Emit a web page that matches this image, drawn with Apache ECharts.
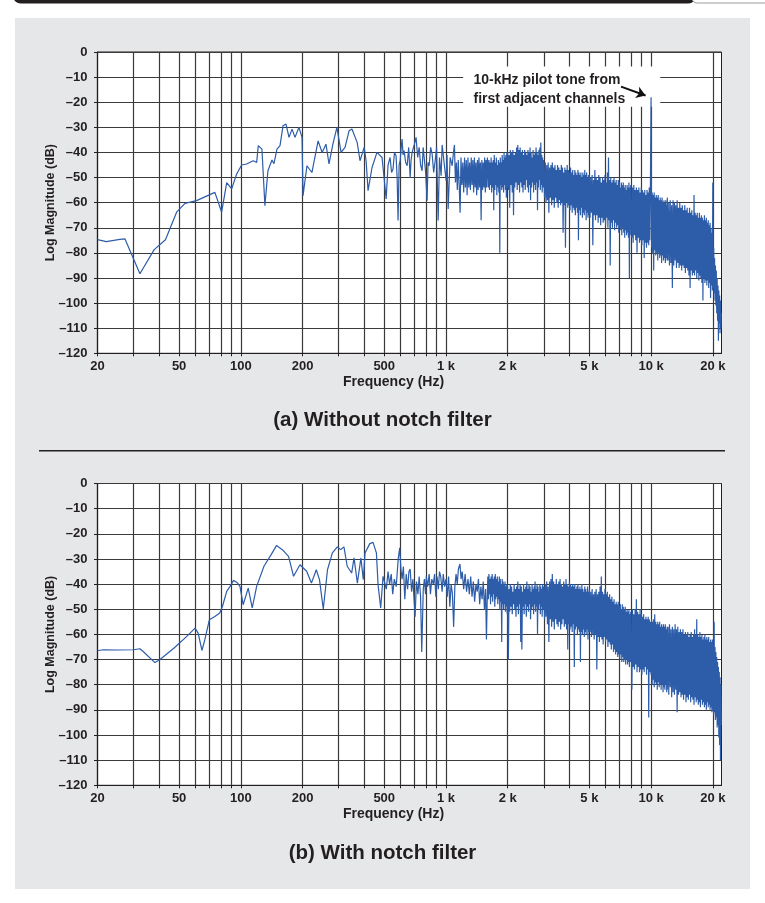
<!DOCTYPE html>
<html>
<head>
<meta charset="utf-8">
<script src="https://cdn.jsdelivr.net/npm/echarts@6/dist/echarts.min.js"></script>
<style>
html, body { margin: 0; padding: 0; background: #fff; }
#chart { width: 765px; height: 903px; }
</style>
</head>
<body>
<div id="chart"></div>
<script>
// Frequency grid and labelled ticks (Hz)
const gridFreqs = [20, 30, 40, 50, 60, 70, 80, 90, 100, 200, 300, 400, 500, 600, 700, 800, 900,
  1000, 2000, 3000, 4000, 5000, 6000, 7000, 8000, 9000, 10000, 20000];
const labelFreqs = [20, 50, 100, 200, 500, 1000, 2000, 5000, 10000, 20000];

// (a) Without notch filter: low/mid band trace, [Hz, dB]
const traceLowA = [
  [20, -74.7], [22.1, -75.5], [25.7, -74.6], [27.2, -74.4], [32.2, -88.3], [37.8, -78.7], [42.9, -74.8],
  [48.6, -63.8], [53.4, -60.3], [60.8, -59.2], [74.7, -55.9], [80.6, -63.8], [85.3, -52], [90.2, -54.5],
  [95.4, -48.6], [100.9, -45], [106.7, -44.6], [114.9, -43.3], [119.4, -44], [121.6, -37.3], [126.7, -38.7],
  [131, -61.2], [135.5, -47.3], [141.8, -43], [145, -44.5], [150, -38.7], [155.2, -37.3], [160.5, -29.4],
  [166, -28.7], [171.7, -34], [177.6, -30.7], [183.7, -34], [192, -30], [198.7, -34], [201, -57.2],
  [210, -45.3], [222, -48], [238, -35.4], [249, -40], [260, -36.7], [269, -44.6], [281, -36.7], [294, -30],
  [308, -40], [322, -38], [337, -31.4], [348, -30.7], [369, -36], [381, -43.3], [399, -38], [408, -43.3],
  [417, -55.2], [436, -46], [461, -40], [488, -42], [511, -58.5], [522, -45], [534, -42], [543, -48],
  [552, -46.6], [561, -40], [571, -41.3], [578, -50], [584, -67.1], [591, -45], [598, -43.3], [605, -38],
  [611, -34.7], [618, -41], [625, -39.3], [636, -44], [647, -45.3], [658, -38], [669, -50], [676, -43],
  [684, -40], [700, -37], [715, -34], [728, -42], [740, -38], [752, -45], [765, -47.3], [774, -38],
  [783, -42], [796, -48], [809, -59.2], [818, -44], [828, -45.3], [842, -38], [856, -40.6], [871, -48],
  [886, -43.3], [900, -38], [916, -67.1], [930, -42], [947, -49.3], [958, -37], [969, -40.6], [985, -46],
  [1002, -51.3], [1012, -41], [1025, -62.5], [1048, -42], [1072, -45.3], [1088, -40], [1100, -37],
  [1112, -52], [1124, -44], [1136, -55], [1148, -43], [1160, -53], [1172, -64], [1184, -42], [1196, -53],
  [1208, -44], [1220, -56], [1232, -42], [1244, -54], [1256, -43], [1268, -57], [1280, -42], [1292, -54],
  [1304, -44], [1316, -55], [1328, -42], [1340, -53], [1352, -43], [1364, -56], [1376, -42], [1388, -54],
  [1400, -44], [1412, -57], [1424, -43], [1436, -55], [1448, -42], [1460, -54], [1472, -44], [1484, -67],
  [1496, -43], [1508, -55], [1520, -44], [1532, -54], [1544, -42], [1556, -56], [1568, -43], [1580, -54],
  [1592, -42]
];

// (b) With notch filter: low/mid band trace, [Hz, dB]
const traceLowB = [
  [20, -66.5], [21.3, -66.1], [25, -66.2], [29.9, -66.1], [32.2, -65.7], [33.4, -66.8], [38.1, -71.2],
  [40.2, -70.1], [47.1, -65.5], [54.5, -60.8], [59.8, -57.5], [61.9, -59.5], [64.6, -66.4], [66.7, -62.2],
  [70.2, -54.2], [74.7, -52.9], [78.9, -51.5], [81.3, -48.9], [85.3, -42.9], [88.6, -40.9], [92.1, -38.5],
  [96.4, -39.6], [99, -40.9], [102.6, -48.2], [108.6, -41.6], [113.6, -49.5], [119.4, -40.9], [129.6, -32.9],
  [140.5, -28.3], [149.1, -24.7], [159.3, -26.3], [170.8, -29], [180.7, -36.9], [194.1, -32.3], [209.3, -34.9],
  [220.8, -39.6], [233.2, -34.3], [241.7, -38.2], [252.3, -49.9], [264.5, -34.3], [279.4, -27.6], [295.3, -25.2],
  [306.5, -26.3], [318.1, -25.2], [330, -32.9], [346.9, -35.6], [356.3, -29.6], [369.9, -39.6], [384.9, -29.6],
  [395.3, -38.2], [403.1, -27.6], [425.3, -23.9], [441, -23.4], [458, -27.6], [466.6, -40.2], [480.6, -49.5],
  [493.5, -36.9], [512, -42], [522, -35], [531, -40], [541, -36], [550, -44], [560, -38], [572, -41],
  [585, -30], [595, -25.6], [603, -34], [611, -38], [620, -33], [630, -46], [640, -36], [650, -42],
  [660, -35], [669, -34], [680, -43], [690, -38], [700, -47], [707, -53], [718, -39], [730, -44],
  [740, -37], [752, -45], [762, -67], [775, -42], [785, -38], [795, -44], [802, -37], [815, -41],
  [828, -36], [840, -44], [853, -38], [868, -40], [880, -36], [893, -45], [905, -37], [918, -42],
  [930, -35], [943, -37], [958, -43], [970, -36], [985, -41], [1000, -38], [1015, -45], [1030, -37],
  [1044, -49], [1060, -40], [1075, -44], [1090, -57], [1105, -41], [1120, -36], [1135, -40], [1150, -34],
  [1170, -32], [1185, -38], [1200, -35], [1220, -42], [1240, -36], [1260, -43], [1280, -38], [1300, -44],
  [1320, -37], [1340, -45], [1360, -39], [1380, -47], [1400, -40], [1420, -43], [1440, -38], [1460, -48],
  [1480, -41], [1500, -46], [1520, -39], [1540, -50], [1560, -42], [1575, -62], [1590, -45]
];

// FFT bins of the dense upper band (Hz), shared by both traces
const freqHi = [
  // 1.6 - 2 kHz
  1600, 1610, 1620, 1630, 1640, 1650, 1660, 1670, 1680, 1690, 1700, 1710, 1720, 1730, 1740, 1750, 1760, 1770, 1780, 1790,
  1800, 1810, 1820, 1830, 1840, 1850, 1860, 1870, 1880, 1890, 1900, 1910, 1920, 1930, 1940, 1950, 1960, 1970, 1980, 1990,
  // 2 - 3 kHz
  2000, 2015, 2030, 2045, 2060, 2075, 2090, 2105, 2120, 2135, 2150, 2165, 2180, 2195, 2210, 2225, 2240, 2255, 2270, 2285,
  2300, 2315, 2330, 2345, 2360, 2375, 2390, 2405, 2420, 2435, 2450, 2465, 2480, 2495, 2510, 2525, 2540, 2555, 2570, 2585,
  2600, 2615, 2630, 2645, 2660, 2675, 2690, 2705, 2720, 2735, 2750, 2765, 2780, 2795, 2810, 2825, 2840, 2855, 2870, 2885,
  2900, 2915, 2930, 2945, 2960, 2975, 2990,
  // 3 - 5 kHz
  3000, 3025, 3050, 3075, 3100, 3125, 3150, 3175, 3200, 3225, 3250, 3275, 3300, 3325, 3350, 3375, 3400, 3425, 3450, 3475,
  3500, 3525, 3550, 3575, 3600, 3625, 3650, 3675, 3700, 3725, 3750, 3775, 3800, 3825, 3850, 3875, 3900, 3925, 3950, 3975,
  4000, 4025, 4050, 4075, 4100, 4125, 4150, 4175, 4200, 4225, 4250, 4275, 4300, 4325, 4350, 4375, 4400, 4425, 4450, 4475,
  4500, 4525, 4550, 4575, 4600, 4625, 4650, 4675, 4700, 4725, 4750, 4775, 4800, 4825, 4850, 4875, 4900, 4925, 4950, 4975,
  // 5 - 8 kHz
  5000, 5040, 5080, 5120, 5160, 5200, 5240, 5280, 5320, 5360, 5400, 5440, 5480, 5520, 5560, 5600, 5640, 5680, 5720, 5760,
  5800, 5840, 5880, 5920, 5960, 6000, 6040, 6080, 6120, 6160, 6200, 6240, 6280, 6320, 6360, 6400, 6440, 6480, 6520, 6560,
  6600, 6640, 6680, 6720, 6760, 6800, 6840, 6880, 6920, 6960, 7000, 7040, 7080, 7120, 7160, 7200, 7240, 7280, 7320, 7360,
  7400, 7440, 7480, 7520, 7560, 7600, 7640, 7680, 7720, 7760, 7800, 7840, 7880, 7920, 7960,
  // 8 - 10 kHz
  8000, 8060, 8120, 8180, 8240, 8300, 8360, 8420, 8480, 8540, 8600, 8660, 8720, 8780, 8840, 8900, 8960, 9020, 9080, 9140,
  9200, 9260, 9320, 9380, 9440, 9500, 9560, 9620, 9680, 9740, 9800, 9860, 9920,
  10000,
  // 10 - 12 kHz
  10060, 10120, 10180, 10240, 10300, 10360, 10420, 10480, 10540, 10600, 10660, 10720, 10780, 10840, 10900, 10960,
  11020, 11080, 11140, 11200, 11260, 11320, 11380, 11440, 11500, 11560, 11620, 11680, 11740, 11800, 11860, 11920, 11980,
  // 12 - 22 kHz
  12000, 12100, 12200, 12300, 12400, 12500, 12600, 12700, 12800, 12900, 13000, 13100, 13200, 13300, 13400, 13500,
  13600, 13700, 13800, 13900, 14000, 14100, 14200, 14300, 14400, 14500, 14600, 14700, 14800, 14900, 15000, 15100,
  15200, 15300, 15400, 15500, 15600, 15700, 15800, 15900, 16000, 16100, 16200, 16300, 16400, 16500, 16600, 16700,
  16800, 16900, 17000, 17100, 17200, 17300, 17400, 17500, 17600, 17700, 17800, 17900, 18000, 18100, 18200, 18300,
  18400, 18500, 18600, 18700, 18800, 18900, 19000, 19100, 19200, 19300, 19400, 19500, 19600, 19700, 19800, 19900,
  20000, 20100, 20200, 20300, 20400, 20500, 20600, 20700, 20800, 20900, 21000, 21100, 21200, 21300, 21400, 21500,
  21600, 21700, 21800, 21900, 22000
];

// (a) magnitude at freqHi (dB); the 10 kHz pilot tone stands out at -18 dB
const magHiA = [
  // 1.6 - 2 kHz
  -45, -54, -43, -55, -44, -53, -42, -56, -44, -54, -43, -63, -41, -55, -44, -53, -42, -57, -45, -54,
  -43, -56, -44, -80, -42, -53, -44, -55, -41, -54, -43, -56, -40, -53, -42, -55, -41, -58, -40, -54,
  // 2 - 3 kHz
  -40, -55, -41, -62, -39, -53, -40, -56, -39, -65, -41, -54, -40, -52, -38, -55, -37, -53, -39, -56,
  -38, -52, -40, -54, -39, -56, -41, -53, -39, -55, -40, -51, -41, -54, -39, -56, -40, -53, -38, -59,
  -40, -54, -42, -52, -39, -56, -41, -53, -40, -55, -38, -52, -40, -63, -41, -54, -39, -51, -38, -55,
  -36, -53, -41, -56, -42, -54, -43,
  // 3 - 5 kHz
  -43, -58, -44, -60, -45, -59, -44, -64, -46, -58, -45, -61, -44, -59, -46, -62, -45, -58, -47, -60,
  -45, -62, -46, -59, -47, -61, -45, -60, -46, -72, -48, -61, -46, -78, -47, -60, -45, -62, -47, -61,
  -48, -63, -46, -61, -48, -64, -47, -62, -49, -63, -47, -65, -48, -62, -49, -64, -47, -75, -48, -63,
  -49, -65, -48, -62, -50, -66, -48, -64, -49, -65, -47, -63, -49, -67, -48, -64, -50, -66, -49, -65,
  // 5 - 8 kHz
  -49, -66, -50, -64, -49, -77, -51, -65, -47, -67, -50, -65, -51, -68, -49, -66, -50, -69, -52, -66,
  -50, -68, -51, -67, -49, -69, -52, -66, -48, -70, -42, -67, -51, -85, -50, -68, -52, -70, -51, -67,
  -50, -71, -52, -68, -51, -70, -53, -69, -51, -72, -52, -70, -54, -71, -52, -73, -53, -70, -52, -72,
  -54, -74, -53, -71, -55, -73, -53, -72, -54, -74, -52, -90, -54, -73, -53,
  // 8 - 10 kHz
  -53, -74, -54, -76, -53, -73, -55, -75, -54, -80, -55, -74, -54, -76, -56, -75, -54, -77, -55, -75,
  -56, -82, -55, -76, -57, -78, -55, -76, -56, -77, -54, -75, -56,
  -18,
  // 10 - 12 kHz
  -78, -56, -80, -57, -87, -56, -79, -58, -81, -57, -80, -58, -83, -57, -80, -59,
  -82, -58, -81, -59, -84, -58, -81, -60, -83, -59, -82, -60, -84, -59, -82, -61, -83,
  // 12 - 22 kHz
  -58, -83, -60, -85, -59, -84, -61, -94, -59, -85, -60, -83, -61, -86, -59, -84,
  -62, -86, -60, -85, -62, -87, -61, -85, -63, -86, -61, -88, -63, -86, -62, -87,
  -64, -89, -62, -94, -64, -87, -63, -89, -65, -88, -57, -89, -64, -87, -65, -90,
  -64, -88, -66, -91, -64, -89, -66, -90, -65, -92, -66, -99, -67, -90, -65, -92,
  -67, -91, -66, -93, -68, -91, -67, -94, -69, -92, -68, -98, -70, -93, -72, -95,
  -52, -94, -78, -96, -82, -99, -85, -101, -87, -104, -90, -107, -93, -115, -95, -108,
  -97, -112, -99, -110, -104
];

// (b) magnitude at freqHi (dB); pilot tone removed by the notch
const magHiB = [
  // 1.6 - 2 kHz
  -37, -46, -36, -44, -38, -48, -37, -45, -36, -47, -38, -44, -37, -49, -36, -46, -38, -45, -37, -48,
  -39, -46, -37, -50, -38, -47, -40, -63, -38, -48, -39, -50, -40, -48, -39, -51, -41, -49, -40, -52,
  // 2 - 3 kHz
  -41, -70, -42, -51, -40, -49, -41, -52, -43, -48, -40, -50, -42, -53, -41, -49, -39, -52, -42, -48,
  -40, -63, -41, -66, -43, -49, -40, -52, -42, -48, -41, -53, -39, -49, -42, -51, -40, -48, -41, -54,
  -43, -50, -40, -49, -42, -52, -41, -48, -39, -51, -42, -49, -40, -60, -41, -50, -43, -48, -40, -52,
  -41, -49, -42, -53, -40, -50, -42,
  // 3 - 5 kHz
  -41, -54, -40, -53, -39, -56, -41, -63, -39, -54, -38, -57, -36, -55, -39, -58, -40, -54, -38, -56,
  -40, -57, -39, -55, -38, -58, -40, -56, -41, -54, -39, -57, -40, -56, -38, -58, -40, -66, -41, -56,
  -39, -58, -40, -57, -41, -59, -40, -56, -41, -73, -40, -58, -42, -57, -41, -60, -40, -58, -42, -59,
  -41, -71, -42, -59, -40, -60, -42, -58, -43, -61, -41, -59, -42, -60, -43, -58, -41, -62, -43, -59,
  // 5 - 8 kHz
  -42, -59, -43, -61, -42, -60, -44, -62, -43, -60, -42, -74, -44, -61, -43, -63, -41, -61, -37, -62,
  -43, -64, -44, -61, -42, -63, -44, -62, -43, -65, -45, -63, -44, -64, -46, -66, -45, -64, -47, -67,
  -46, -66, -48, -68, -47, -67, -48, -69, -47, -68, -49, -70, -48, -68, -50, -71, -48, -69, -49, -71,
  -50, -70, -49, -72, -51, -70, -50, -72, -51, -71, -50, -73, -52, -71, -51,
  // 8 - 10 kHz
  -51, -82, -50, -73, -52, -74, -50, -72, -46, -75, -51, -73, -52, -75, -50, -74, -52, -76, -53, -74,
  -52, -75, -54, -73, -53, -76, -54, -74, -53, -93, -54, -75, -55,
  -76,
  // 10 - 12 kHz
  -54, -80, -55, -78, -54, -81, -52, -79, -55, -80, -56, -82, -55, -79, -56, -81,
  -55, -80, -57, -82, -56, -80, -57, -83, -56, -81, -57, -82, -56, -80, -58, -83, -57,
  // 12 - 22 kHz
  -82, -57, -84, -56, -81, -58, -85, -57, -83, -58, -84, -56, -82, -58, -91, -57,
  -84, -59, -83, -58, -85, -59, -84, -58, -86, -60, -84, -59, -87, -60, -85, -59,
  -86, -61, -84, -60, -87, -59, -85, -61, -86, -60, -88, -58, -85, -60, -87, -54,
  -86, -60, -88, -61, -87, -59, -89, -61, -86, -60, -88, -62, -87, -61, -89, -60,
  -88, -62, -90, -61, -87, -62, -89, -61, -88, -63, -90, -62, -89, -63, -91, -62,
  -90, -64, -92, -55, -91, -65, -94, -67, -93, -69, -97, -71, -96, -73, -101, -75,
  -104, -77, -110, -80, -96
];

// Callout for the pilot tone in panel (a)
const pilotNote = {
  text: '10-kHz pilot tone from\nfirst adjacent channels',
  anchor: [1362, -15.05],
  box: [[1213, -5.8], [11086, -21.8]],
  arrow: [[7136, -13.8], [9400, -17.3]]
};

const FONT = "'Liberation Sans', Arial, Helvetica, sans-serif";
const INK = '#231f20';
const RULE = '#3a3a3a';
const TRACE = '#2d5ca9';

function withHi(low, mags) {
  return low.concat(freqHi.map((f, i) => [f, mags[i]]));
}

function fmtFreq(v) {
  const r = Math.round(v);
  return r >= 1000 ? (r / 1000) + ' k' : String(r);
}
function fmtDb(v) {
  return v === 0 ? '0' : '\u2013' + Math.abs(v);
}

function xAxisFor(gi) {
  return {
    type: 'log', logBase: 10, gridIndex: gi, min: 20, max: 22050,
    name: 'Frequency (Hz)', nameLocation: 'middle', nameGap: 22, nameMoveOverlap: false,
    nameTextStyle: { fontFamily: FONT, fontWeight: 'bold', fontSize: 14, color: INK, padding: [0, 32, 0, 0] },
    axisLine: { show: true, onZero: false, lineStyle: { color: INK, width: 1.2 } },
    axisTick: { show: true, length: 3, customValues: gridFreqs, lineStyle: { color: INK, width: 1 } },
    axisLabel: { customValues: labelFreqs, formatter: fmtFreq, margin: 7, fontFamily: FONT,
      fontWeight: 'bold', fontSize: 13, color: INK },
    splitLine: { show: true, lineStyle: { color: RULE, width: 1.2 } },
    minorTick: { show: false }, minorSplitLine: { show: false }
  };
}
function yAxisFor(gi) {
  return {
    type: 'value', gridIndex: gi, min: -120, max: 0, interval: 10,
    name: 'Log Magnitude (dB)', nameLocation: 'middle', nameGap: 40, nameRotate: 90, nameMoveOverlap: false,
    nameTextStyle: { fontFamily: FONT, fontWeight: 'bold', fontSize: 12.5, color: INK },
    axisLine: { show: true, onZero: false, lineStyle: { color: INK, width: 1.2 } },
    axisTick: { show: true, length: 3.5, lineStyle: { color: INK, width: 1 } },
    axisLabel: { formatter: fmtDb, margin: 10, fontFamily: FONT, fontWeight: 'bold', fontSize: 13, color: INK },
    splitLine: { show: true, lineStyle: { color: RULE, width: 1.2 } }
  };
}
function traceSeries(gi, data) {
  return {
    type: 'line', xAxisIndex: gi, yAxisIndex: gi, data: data, z: 3,
    showSymbol: false, symbol: 'none', silent: true,
    lineStyle: { color: TRACE, width: 1.2 }
  };
}

const chart = echarts.init(document.getElementById('chart'), null, { renderer: 'canvas' });
chart.setOption({
  animation: false,
  backgroundColor: '#fff',
  title: [
    { text: '(a) Without notch filter', left: 'center', top: 409.5, padding: 0,
      textStyle: { fontFamily: FONT, fontWeight: 'bold', fontSize: 20.5, color: INK } },
    { text: '(b) With notch filter', left: 'center', top: 843, padding: 0,
      textStyle: { fontFamily: FONT, fontWeight: 'bold', fontSize: 20.5, color: INK } }
  ],
  grid: [
    { left: 97.5, right: 43.5, top: 52, height: 301.3, show: true, backgroundColor: '#fff',
      borderColor: INK, borderWidth: 1, outerBoundsMode: 'none', containLabel: false },
    { left: 97.5, right: 43.5, top: 483.5, height: 301.8, show: true, backgroundColor: '#fff',
      borderColor: INK, borderWidth: 1, outerBoundsMode: 'none', containLabel: false }
  ],
  xAxis: [xAxisFor(0), xAxisFor(1)],
  yAxis: [yAxisFor(0), yAxisFor(1)],
  graphic: [
    { type: 'rect', z: -10, silent: true, shape: { x: 15, y: 18, width: 735, height: 871 },
      style: { fill: '#e6e7e8' } },
    { type: 'rect', z: -9, silent: true, shape: { x: 13, y: -12, width: 683, height: 15.5, r: 9 },
      style: { fill: INK } },
    { type: 'rect', z: -9, silent: true, shape: { x: 692, y: -12, width: 90, height: 15, r: 5 },
      style: { fill: '#fff', stroke: '#9a9a9a', lineWidth: 1 } },
    { type: 'line', z: -9, silent: true, shape: { x1: 39, y1: 450.7, x2: 725, y2: 450.7 },
      style: { stroke: INK, lineWidth: 1.4 } }
  ],
  series: [
    // white backing behind the callout text, above the grid rules
    {
      type: 'line', xAxisIndex: 0, yAxisIndex: 0, z: 2, silent: true,
      data: [pilotNote.anchor], showSymbol: false, symbol: 'none', lineStyle: { width: 0 },
      markArea: {
        silent: true, itemStyle: { color: '#fff', borderWidth: 0 },
        data: [[{ coord: pilotNote.box[0] }, { coord: pilotNote.box[1] }]]
      }
    },
    traceSeries(0, withHi(traceLowA, magHiA)),
    traceSeries(1, withHi(traceLowB, magHiB)),
    // callout text and arrow
    {
      type: 'line', xAxisIndex: 0, yAxisIndex: 0, z: 4, silent: true,
      data: [pilotNote.anchor], showSymbol: false, symbol: 'none', lineStyle: { width: 0 },
      markPoint: {
        silent: true, symbol: 'circle', symbolSize: 0,
        data: [{ coord: pilotNote.anchor }],
        label: { show: true, position: 'right', distance: 0, formatter: pilotNote.text,
          fontFamily: FONT, fontWeight: 'bold', fontSize: 14, lineHeight: 18.3, color: INK, align: 'left' }
      },
      markLine: {
        silent: true, symbol: ['none', 'arrow'], symbolSize: 9,
        lineStyle: { color: '#111', width: 2, type: 'solid' },
        label: { show: false },
        data: [[{ coord: pilotNote.arrow[0] }, { coord: pilotNote.arrow[1] }]]
      }
    }
  ]
});
</script>
</body>
</html>
